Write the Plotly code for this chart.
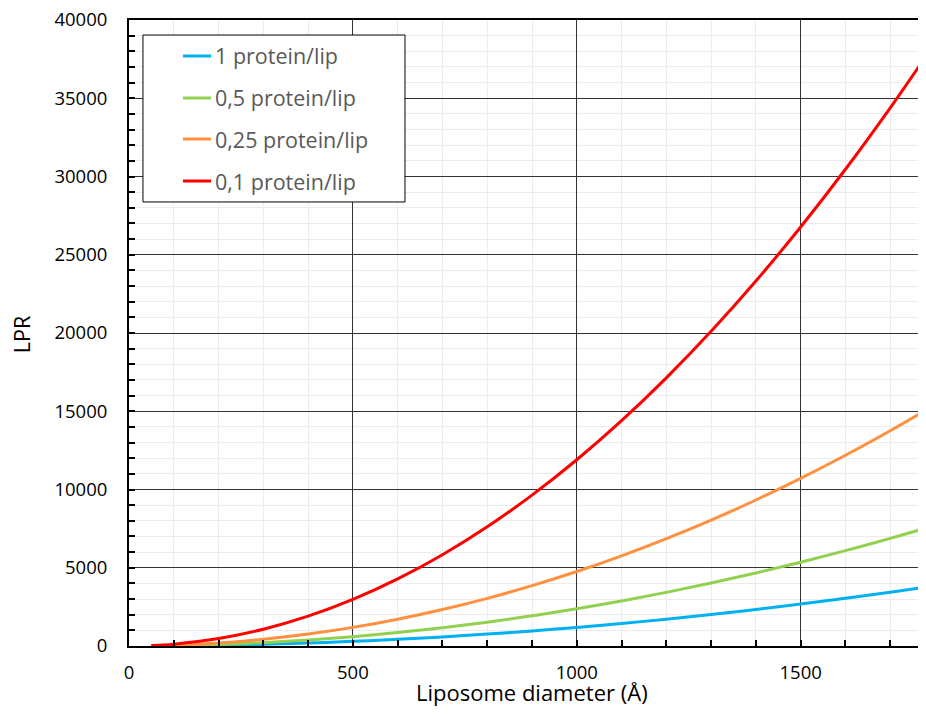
import plotly.graph_objects as go

diameter = [50, 100, 200, 300, 400, 500, 600, 700, 800, 900, 1000, 1100, 1200, 1300, 1400, 1500, 1600, 1700, 1780]
lpr_1 = [3, 12, 48, 107, 190, 298, 428, 583, 762, 964, 1190, 1440, 1714, 2011, 2332, 2678, 3046, 3439, 3770]
lpr_05 = [6, 24, 95, 214, 381, 595, 857, 1166, 1523, 1928, 2380, 2880, 3427, 4022, 4665, 5355, 6093, 6878, 7540]
lpr_025 = [12, 48, 190, 428, 762, 1190, 1714, 2332, 3046, 3856, 4760, 5760, 6854, 8044, 9330, 10710, 12186, 13756, 15080]
lpr_01 = [30, 119, 476, 1071, 1904, 2975, 4284, 5831, 7616, 9639, 11900, 14399, 17136, 20111, 23324, 26775, 30464, 34391, 37700]

x_ticks = [0, 500, 1000, 1500]
names = ["1 protein/lip", "0,5 protein/lip", "0,25 protein/lip", "0,1 protein/lip"]
colors = ["#00B0F0", "#92D050", "#FF9040", "#FF0000"]
series = [lpr_1, lpr_05, lpr_025, lpr_01]
x_title = "Liposome diameter (Å)"
y_title = "LPR"

fig = go.Figure()
for n, c, s in zip(names, colors, series):
    fig.add_trace(go.Scatter(x=diameter, y=s, mode="lines", name=n, showlegend=False,
                             line=dict(color=c, width=3, shape="spline")))

# Hand-built legend box (paper coordinates)
box_x0, box_x1, box_y0, box_y1 = 0.0177, 0.3498, 0.7093, 0.976
line_x0, line_x1, text_x = 0.0684, 0.1039, 0.1065
row_y = [0.9425, 0.8754, 0.8099, 0.7428]
shapes = [dict(type="rect", xref="paper", yref="paper", x0=box_x0, x1=box_x1, y0=box_y0, y1=box_y1,
               line=dict(color="black", width=1), fillcolor="white", layer="above")]
annotations = []
for n, c, yy in zip(names, colors, row_y):
    shapes.append(dict(type="line", xref="paper", yref="paper", x0=line_x0, x1=line_x1, y0=yy, y1=yy,
                       line=dict(color=c, width=3), layer="above"))
    annotations.append(dict(xref="paper", yref="paper", x=text_x, y=yy, text=n, showarrow=False,
                            xanchor="left", yanchor="middle",
                            font=dict(size=21.5, color="#595959")))

# Axis titles as annotations
annotations.append(dict(xref="paper", yref="paper", x=0.511, y=-0.1, text=x_title, showarrow=False,
                        xanchor="center", yanchor="bottom", font=dict(size=22, color="black")))
annotations.append(dict(xref="paper", yref="paper", x=-0.137, y=0.498, text=y_title, showarrow=False,
                        textangle=-90, xanchor="center", yanchor="middle",
                        font=dict(size=21.5, color="black")))

font = "'Open Sans', sans-serif"
fig.update_layout(
    width=910, height=701,
    margin=dict(l=121, r=0, t=12, b=63, autoexpand=False),
    paper_bgcolor="white", plot_bgcolor="white",
    font=dict(family=font, size=18.5, color="black"),
    shapes=shapes, annotations=annotations,
    xaxis=dict(range=[0, 1762], tickvals=x_ticks, tickformat="d",
               showgrid=True, gridcolor="#333333", gridwidth=1,
               showline=True, linecolor="black", linewidth=2, mirror=True,
               ticks="inside", ticklen=6, tickcolor="black", tickwidth=2,
               ticklabelstandoff=9, automargin=False, ticklabeloverflow="allow",
               minor=dict(dtick=100, showgrid=True, gridcolor="#ececec", gridwidth=1,
                          ticks="inside", ticklen=6, tickcolor="black", tickwidth=2),
               zeroline=False),
    yaxis=dict(range=[0, 40000], dtick=5000, tickformat="d",
               showgrid=True, gridcolor="#333333", gridwidth=1,
               showline=True, linecolor="black", linewidth=2, mirror=False,
               ticks="inside", ticklen=6, tickcolor="black", tickwidth=2,
               ticklabelstandoff=16, automargin=False, ticklabeloverflow="allow",
               minor=dict(dtick=1000, showgrid=True, gridcolor="#ececec", gridwidth=1,
                          ticks="inside", ticklen=6, tickcolor="black", tickwidth=2),
               zeroline=False),
)
fig.write_html("out.html")
